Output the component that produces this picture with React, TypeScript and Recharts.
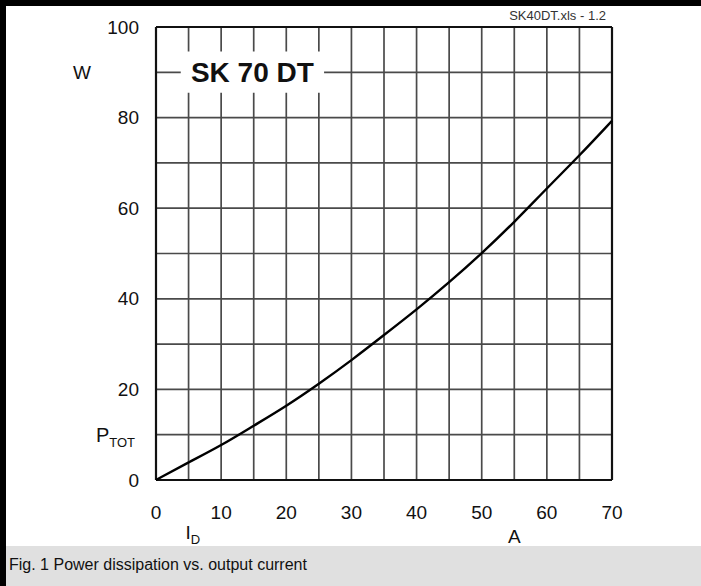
import React from "react";
import {
  CartesianGrid,
  Line,
  LineChart,
  ReferenceArea,
  ReferenceLine,
  XAxis,
  YAxis,
} from "recharts";

// drain current I_D in A, total power P_TOT in W
const currentA = [0, 5, 10, 15, 20, 25, 30, 35, 40, 45, 50, 55, 60, 65, 70];
const powerW = [0, 3.9, 7.6, 12, 16.3, 21.2, 26.4, 32, 37.6, 43.6, 50, 56.9, 64.4, 71.6, 79.3];

const xTicks = [0, 5, 10, 15, 20, 25, 30, 35, 40, 45, 50, 55, 60, 65, 70];
const yTicks = [0, 10, 20, 30, 40, 50, 60, 70, 80, 90, 100];

const data = currentA.map((a, i) => ({ a, p: powerW[i] }));

const FONT = "'Liberation Sans', Arial, Helvetica, sans-serif";
const INK = "#111";
const GRID = "#4a4a4a";
const TICK_FS = 19;

function YTick({ x, y, payload }: any) {
  const v = payload.value;
  if (v === 90) {
    return (
      <text x={x - 48} y={y} dy="0.35em" textAnchor="end" fontSize={TICK_FS} fill={INK} fontFamily={FONT}>
        W
      </text>
    );
  }
  if (v === 10) {
    return (
      <text x={x - 4} y={y} dy="0.35em" textAnchor="end" fontSize={20} fill={INK} fontFamily={FONT}>
        P
        <tspan fontSize={13} dy={5}>
          TOT
        </tspan>
      </text>
    );
  }
  if (v % 20 !== 0) return null;
  return (
    <text x={x} y={y} dy="0.35em" textAnchor="end" fontSize={TICK_FS} fill={INK} fontFamily={FONT}>
      {v}
    </text>
  );
}

function XTick({ x, y, payload }: any) {
  const v = payload.value;
  if (v === 5) {
    return (
      <text x={x - 3} y={y + 20} dy="0.35em" textAnchor="start" fontSize={TICK_FS} fill={INK} fontFamily={FONT}>
        I
        <tspan fontSize={13} dy={5}>
          D
        </tspan>
      </text>
    );
  }
  if (v === 55) {
    return (
      <text x={x} y={y + 24} dy="0.35em" textAnchor="middle" fontSize={TICK_FS} fill={INK} fontFamily={FONT}>
        A
      </text>
    );
  }
  if (v % 10 !== 0) return null;
  return (
    <text x={x} y={y} dy="0.35em" textAnchor="middle" fontSize={TICK_FS} fill={INK} fontFamily={FONT}>
      {v}
    </text>
  );
}

export default function App() {
  return (
    <div
      style={{
        position: "absolute",
        left: 0,
        top: 0,
        width: 701,
        height: 586,
        background: "#fff",
        overflow: "hidden",
        fontFamily: FONT,
      }}
    >
      <LineChart
        width={701}
        height={546}
        data={data}
        margin={{ top: 27, right: 89, left: 0, bottom: 0 }}
      >
        <CartesianGrid stroke={GRID} strokeWidth={1.7} />
        <XAxis
          dataKey="a"
          type="number"
          domain={[0, 70]}
          ticks={xTicks}
          interval={0}
          axisLine={false}
          tickLine={false}
          tickSize={0}
          tickMargin={32}
          height={66}
          tick={<XTick />}
        />
        <YAxis
          type="number"
          domain={[0, 100]}
          ticks={yTicks}
          interval={0}
          axisLine={false}
          tickLine={false}
          tickSize={0}
          tickMargin={17}
          width={156}
          tick={<YTick />}
        />
        <ReferenceArea
          x1={3.8}
          x2={25.8}
          y1={85.5}
          y2={94.6}
          fill="#fff"
          fillOpacity={1}
          stroke="none"
          ifOverflow="visible"
          label={{
            value: "SK 70 DT",
            position: "center",
            fontSize: 28,
            fontWeight: 700,
            fill: INK,
            fontFamily: FONT,
          }}
        />
        <ReferenceLine x={0} stroke={INK} strokeWidth={2.2} />
        <ReferenceLine x={70} stroke={INK} strokeWidth={2.2} />
        <ReferenceLine y={0} stroke={INK} strokeWidth={2.2} />
        <ReferenceLine y={100} stroke={INK} strokeWidth={2.2} />
        <Line
          dataKey="p"
          type="basis"
          stroke="#000"
          strokeWidth={2.4}
          dot={false}
          isAnimationActive={false}
        />
      </LineChart>

      <div
        style={{
          position: "absolute",
          right: 95,
          top: 8,
          fontSize: 13,
          color: "#333",
        }}
      >
        SK40DT.xls - 1.2
      </div>

      <div
        style={{
          position: "absolute",
          left: 0,
          top: 546,
          width: 701,
          height: 40,
          background: "#e0e0e0",
          boxSizing: "border-box",
          paddingLeft: 9,
          paddingTop: 10,
          fontSize: 16,
          lineHeight: "18px",
          color: INK,
        }}
      >
        Fig. 1 Power dissipation vs. output current
      </div>

      <div style={{ position: "absolute", left: 0, top: 0, width: 701, height: 6, background: "#000" }} />
      <div style={{ position: "absolute", left: 0, top: 0, width: 6, height: 586, background: "#000" }} />
    </div>
  );
}
